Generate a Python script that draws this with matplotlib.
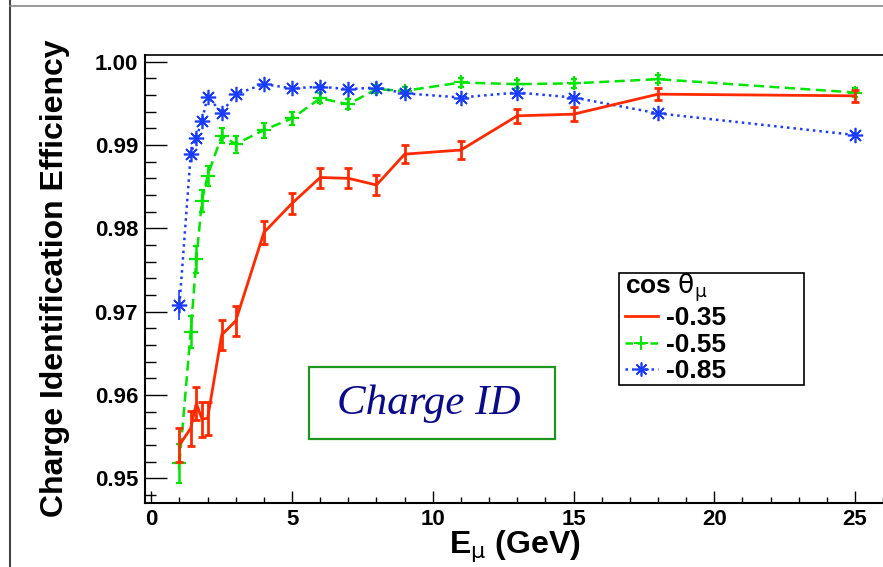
import numpy as np
import matplotlib.pyplot as plt
from matplotlib.patches import Rectangle
from matplotlib.lines import Line2D

# muon energy (GeV)
energy = [1, 1.4, 1.6, 1.8, 2, 2.5, 3, 4, 5, 6, 7, 8, 9, 11, 13, 15, 18, 25]

# cos theta = -0.35
eff_035 = [0.9540, 0.9560, 0.9590, 0.9571, 0.9572, 0.9672, 0.9689, 0.9795, 0.9830,
           0.9861, 0.9860, 0.9852, 0.9889, 0.9894, 0.9935, 0.9937, 0.9961, 0.9959]
err_035 = [0.0020, 0.0021, 0.0020, 0.0021, 0.0020, 0.0018, 0.0018, 0.0014, 0.0013,
           0.0012, 0.0012, 0.0012, 0.0011, 0.0011, 0.0008, 0.0008, 0.0007, 0.0007]
# cos theta = -0.55
eff_055 = [0.9518, 0.9676, 0.9763, 0.9833, 0.9863, 0.9911, 0.9901, 0.9918, 0.9932,
           0.9956, 0.9949, 0.9967, 0.9965, 0.9975, 0.9973, 0.9974, 0.9979, 0.9963]
err_055 = [0.0023, 0.0019, 0.0016, 0.0013, 0.0012, 0.0009, 0.0010, 0.0009, 0.0008,
           0.0006, 0.0006, 0.0005, 0.0005, 0.0005, 0.0005, 0.0005, 0.0005, 0.0005]
# cos theta = -0.85
eff_085 = [0.9708, 0.9889, 0.9909, 0.9929, 0.9958, 0.9939, 0.9961, 0.9973, 0.9968,
           0.9970, 0.9967, 0.9969, 0.9962, 0.9957, 0.9963, 0.9957, 0.9938, 0.9912]
err_085 = [0.0018, 0.0005, 0.0005, 0.0004, 0.0004, 0.0004, 0.0003, 0.0003, 0.0003,
           0.0003, 0.0003, 0.0003, 0.0003, 0.0003, 0.0003, 0.0003, 0.0003, 0.0004]

labels = ["-0.35", "-0.55", "-0.85"]

red = "#ff2a00"
green = "#00e600"
blue = "#1a3cff"

plt.rcParams['font.family'] = ['Liberation Sans', 'DejaVu Sans']

W, H = 883, 567
fig = plt.figure(figsize=(W/100, H/100), dpi=100)
ax = fig.add_axes([145/W, 1-503/H, (886-145)/W, (503-55)/H])

ax.errorbar(energy, eff_035, yerr=err_035, color=red, lw=2, elinewidth=2,
            capsize=3, capthick=2, zorder=3)
ax.errorbar(energy, eff_055, yerr=err_055, color=green, lw=1.8, dashes=(4, 2.2),
            marker="+", ms=10, mew=1.6, elinewidth=1.8, capsize=2.5, capthick=1.8, zorder=2)
ax.errorbar(energy, eff_085, yerr=err_085, color=blue, lw=1.8, linestyle=(0, (1, 1.6)),
            marker=(8, 2, 0), ms=11, mew=1.2, elinewidth=1.2, capsize=0, zorder=2)

ax.set_xlim(-0.224, 26.1)
ax.set_ylim(0.94704, 1.0008)
ax.set_xticks([0, 5, 10, 15, 20, 25])
ax.set_xticks(np.arange(0, 27, 1), minor=True)
ax.set_yticks([0.95, 0.96, 0.97, 0.98, 0.99, 1.00])
ax.set_yticks(np.arange(0.948, 1.0005, 0.002), minor=True)
ax.set_yticklabels(["0.95", "0.96", "0.97", "0.98", "0.99", "1.00"])
ax.tick_params(axis="y", which="major", direction="in", length=16, width=1, pad=5,
               labelsize=16)
ax.tick_params(axis="y", which="minor", direction="in", length=8, width=1)
ax.tick_params(axis="x", which="major", direction="in", length=9, width=1, pad=4,
               labelsize=16)
ax.tick_params(axis="x", which="minor", direction="in", length=4.5, width=1)
for t in ax.get_xticklabels() + ax.get_yticklabels():
    t.set_fontweight("bold")
for s in ["left", "bottom"]:
    ax.spines[s].set_linewidth(1.5)
ax.spines["top"].set_linewidth(1.2)
ax.spines["right"].set_visible(False)

fig.text(55/W, 1-278/H, "Charge Identification Efficiency", rotation=90,
         ha="center", va="center", fontsize=23, fontweight="bold")
fig.text(515/W, 1-546/H, r"E$_{\mathrm{\mu}}$ (GeV)", ha="center", va="center",
         fontsize=23, fontweight="bold")

# legend, drawn on a fixed frame
ax.add_patch(Rectangle(((618-145)/740, (503-385)/448), 185/740, 112/448,
                       transform=ax.transAxes, fc="white", ec="black", lw=1.2, zorder=6))
handles = [Line2D([], [], color=red, lw=2),
           Line2D([], [], color=green, lw=1.8, dashes=(3, 2), marker="+", ms=10, mew=1.4),
           Line2D([], [], color=blue, lw=1.8, linestyle=(0, (1, 1.6)), marker=(8, 2, 0),
                  ms=10, mew=1.2)]
leg = ax.legend(handles, labels, title=r"cos $\mathrm{\theta_{\mu}}$", loc="upper left",
                bbox_to_anchor=((619-145)/740, (503-266)/448), borderaxespad=0,
                frameon=False, prop={"size": 19, "weight": "bold"},
                title_fontproperties={"size": 19, "weight": "bold"},
                handlelength=1.25, handletextpad=0.3, labelspacing=0.1,
                borderpad=0.2, alignment="left")
leg.set_zorder(7)

# Charge ID box
ax.add_patch(Rectangle(((309-145)/740, (503-439)/448), 245/740, 72/448,
                       transform=ax.transAxes, fill=True, fc="white",
                       ec="#1e961e", lw=1.6, zorder=5))
ax.text((428-145)/740, (503-404)/448, "Charge ID", transform=ax.transAxes,
        ha="center", va="center", fontsize=31, style="italic", color="#0a0a8c",
        family="Liberation Serif", zorder=6)

# canvas frame remnants
fig.add_artist(Line2D([10/W, 10/W], [0, 1], color="#444444", lw=1.5))
fig.add_artist(Line2D([10/W, 1], [1-6/H, 1-6/H], color="#888888", lw=1.2))

fig.savefig("out.png", dpi=100)
